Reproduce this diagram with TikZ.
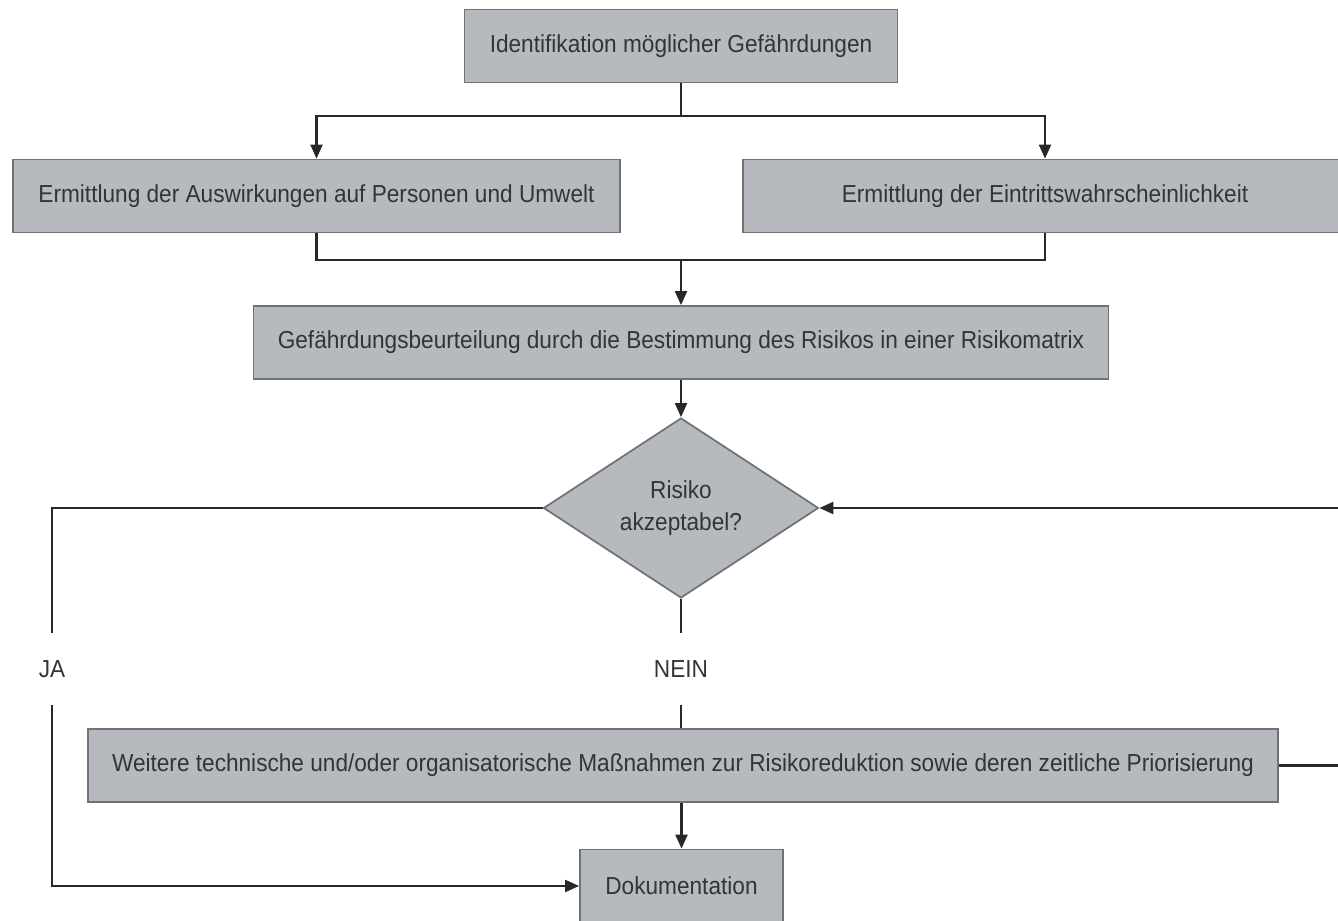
\documentclass[tikz,border=0pt]{standalone}
\usepackage{fontspec}
\setmainfont[FakeStretch=0.92]{Liberation Sans}
\usetikzlibrary{shapes.geometric, arrows.meta, calc}
\definecolor{boxgray}{RGB}{182,186,191}
\definecolor{edgegray}{RGB}{112,114,118}
\definecolor{textgray}{RGB}{52,52,54}
\definecolor{linegray}{RGB}{40,40,40}

\begin{document}
\begin{tikzpicture}[
    stepbox/.style={draw=edgegray, line width=1pt, fill=boxgray, text=textgray,
        font=\fontsize{14}{17}\selectfont, minimum height=1.46cm, inner sep=0pt},
    decision/.style={diamond, draw=edgegray, line width=1pt, fill=boxgray, text=textgray,
        align=center, font=\fontsize{14}{18.5}\selectfont, minimum width=5.5cm,
        minimum height=3.6cm, inner sep=0pt},
    answer/.style={text=textgray, font=\fontsize{14}{17}\selectfont, inner xsep=2pt, inner ysep=0.55cm},
    flow/.style={draw=linegray, line width=1.2pt},
    arrow/.style={flow, -{Triangle[length=2.8mm, width=2.4mm]}}
]
    \clip (0,0) rectangle (26.76,18.42);

    % Boxes
    \node[stepbox, minimum width=8.66cm] (ident) at (13.62, 17.50) {Identifikation möglicher Gefährdungen};
    \node[stepbox, minimum width=12.14cm] (effects) at (6.33, 14.50) {Ermittlung der Auswirkungen auf Personen und Umwelt};
    \node[stepbox, minimum width=12.08cm] (chance) at (20.90, 14.50) {Ermittlung der Eintrittswahrscheinlichkeit};
    \node[stepbox, minimum width=17.10cm] (assess) at (13.62, 11.57) {Gefährdungsbeurteilung durch die Bestimmung des Risikos in einer Risikomatrix};
    \node[decision] (check) at (13.62, 8.26) {Risiko\\akzeptabel?};
    \node[stepbox, minimum width=23.80cm] (measures) at (13.66, 3.11) {Weitere technische und/oder organisatorische Maßnahmen zur Risikoreduktion sowie deren zeitliche Priorisierung};
    \node[stepbox, minimum width=4.06cm] (doc) at (13.63, 0.70) {Dokumentation};

    % Answers
    \node[answer] (ja) at (1.04, 5.04) {JA};
    \node[answer] (nein) at (13.62, 5.04) {NEIN};

    % Fork and merge
    \coordinate (fork) at (13.62, 16.10);
    \coordinate (merge) at (13.62, 13.22);
    \draw[flow] (ident) -- (fork);
    \draw[arrow] (fork) -| (effects);
    \draw[arrow] (fork) -| (chance);
    \draw[flow] (effects) |- (merge);
    \draw[flow] (chance) |- (merge);
    \draw[arrow] (merge) -- (assess);
    \draw[arrow] (assess) -- (check);

    % Decision
    \draw[flow] (check) -| (ja);
    \draw[arrow] (ja) |- (doc);
    \draw[flow] (check) -- (nein);
    \draw[flow] (nein) -- (nein |- measures.north);
    \draw[arrow] (measures.south -| doc) -- (doc);
    \draw[arrow] (measures.east) -- ++(1.5, 0) |- (check.east);
\end{tikzpicture}
\end{document}
